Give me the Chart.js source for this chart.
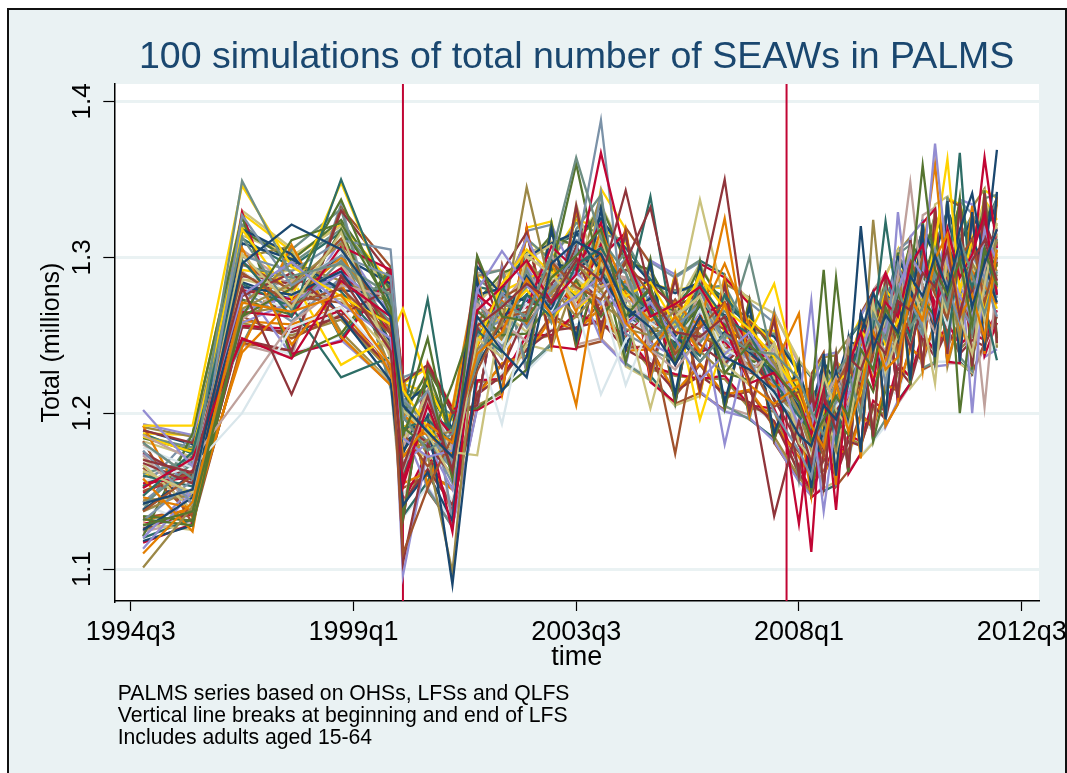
<!DOCTYPE html>
<html>
<head>
<meta charset="utf-8">
<script src="https://cdn.jsdelivr.net/npm/chart.js@4/dist/chart.umd.min.js"></script>
<style>
html,body{margin:0;padding:0;background:#fff;}
#wrap{position:relative;width:1067px;height:773px;overflow:hidden;}
#c{position:absolute;left:0;top:0;}
#note{position:absolute;left:117.7px;top:681.6px;font-family:"Liberation Sans",Arial,sans-serif;font-size:21.2px;line-height:22px;color:#000;white-space:nowrap;}
</style>
</head>
<body>
<div id="wrap">
<canvas id="c" width="1067" height="773"></canvas>
<div id="note">PALMS series based on OHSs, LFSs and QLFS<br>Vertical line breaks at beginning and end of LFS<br>Includes adults aged 15-64</div>
</div>
<script>
// Stata quarterly dates (1960q1 = 0): OHS annual 1994q4-1999q4, LFS biannual 2000q1-2007q3, QLFS quarterly 2008q1-2012q1
const timeQ = [139,143,147,151,155,159,
  160,162,164,166,168,170,172,174,176,178,180,182,184,186,188,190,
  192,193,194,195,196,197,198,199,200,201,202,203,204,205,206,207,208];
const xTickValues = [138,156,174,192,210];
const xTickLabels = ['1994q3','1999q1','2003q3','2008q1','2012q3'];
const yTickValues = [1.1,1.2,1.3,1.4];
const yTickLabels = ['1.1','1.2','1.3','1.4'];
const lfsBreaks = [160,191]; // 2000q1, 2007q4
const titleText = '100 simulations of total number of SEAWs in PALMS';
const yTitle = 'Total (millions)';
const xTitle = 'time';

// simulated totals (millions)
const sim00=[1.142,1.151,1.296,1.321,1.305,1.262, 1.205,1.188,1.172,1.262,1.240,1.223,1.296,1.310,1.302,1.268,1.255,1.231,1.262,1.236,1.228,1.214, 1.186,1.179,1.205,1.196,1.222,1.320,1.241,1.263,1.252,1.288,1.275,1.301,1.279,1.310,1.268,1.296,1.318];
const sim01=[1.170,1.162,1.281,1.212,1.288,1.240, 1.165,1.211,1.163,1.256,1.268,1.283,1.272,1.298,1.285,1.343,1.276,1.252,1.249,1.262,1.221,1.134, 1.195,1.168,1.212,1.189,1.236,1.228,1.249,1.238,1.272,1.266,1.290,1.281,1.305,1.262,1.298,1.311,1.285];
const sim02=[1.128,1.137,1.262,1.311,1.322,1.268, 1.186,1.224,1.158,1.301,1.262,1.259,1.287,1.301,1.318,1.262,1.281,1.233,1.271,1.226,1.244,1.228, 1.207,1.182,1.196,1.211,1.198,1.241,1.228,1.268,1.249,1.283,1.359,1.292,1.276,1.298,1.257,1.305,1.282];
const sim03=[1.110,1.143,1.271,1.265,1.276,1.231, 1.172,1.193,1.181,1.238,1.252,1.286,1.263,1.205,1.302,1.258,1.240,1.262,1.239,1.270,1.218,1.206, 1.218,1.192,1.178,1.220,1.188,1.215,1.252,1.228,1.236,1.274,1.260,1.299,1.315,1.262,1.276,1.248,1.305];
const sim04=[1.181,1.158,1.349,1.288,1.296,1.276, 1.198,1.176,1.187,1.232,1.271,1.262,1.301,1.364,1.312,1.290,1.248,1.259,1.233,1.251,1.240,1.238, 1.222,1.201,1.186,1.208,1.226,1.198,1.264,1.247,1.281,1.255,1.268,1.290,1.268,1.311,1.289,1.264,1.291];
const sim05=[1.152,1.171,1.248,1.235,1.285,1.262, 1.156,1.205,1.163,1.266,1.281,1.298,1.271,1.289,1.367,1.301,1.262,1.270,1.281,1.255,1.219,1.226, 1.208,1.186,1.215,1.138,1.231,1.252,1.218,1.271,1.262,1.295,1.308,1.262,1.318,1.287,1.302,1.328,1.276];
const sim06=[1.202,1.166,1.276,1.297,1.270,1.248, 1.184,1.172,1.176,1.279,1.304,1.282,1.264,1.275,1.288,1.256,1.271,1.248,1.221,1.238,1.252,1.229, 1.192,1.205,1.137,1.196,1.212,1.238,1.262,1.252,1.279,1.301,1.288,1.373,1.296,1.275,1.262,1.318,1.297];
const sim07=[1.163,1.149,1.302,1.268,1.316,1.235, 1.202,1.187,1.158,1.248,1.236,1.301,1.289,1.272,1.296,1.266,1.203,1.262,1.275,1.232,1.218,1.245, 1.181,1.171,1.224,1.202,1.190,1.233,1.271,1.226,1.250,1.285,1.262,1.219,1.305,1.262,1.238,1.282,1.322];
const sim08=[1.137,1.160,1.290,1.270,1.280,1.251, 1.110,1.152,1.185,1.227,1.261,1.265,1.297,1.281,1.273,1.298,1.276,1.238,1.255,1.271,1.232,1.204, 1.214,1.195,1.172,1.218,1.233,1.207,1.239,1.276,1.241,1.262,1.301,1.276,1.261,1.299,1.312,1.271,1.300];
const sim09=[1.176,1.142,1.327,1.282,1.301,1.288, 1.196,1.214,1.168,1.235,1.277,1.255,1.280,1.302,1.388,1.251,1.242,1.255,1.270,1.247,1.235,1.201, 1.176,1.159,1.206,1.218,1.201,1.248,1.227,1.255,1.296,1.271,1.256,1.305,1.282,1.258,1.301,1.287,1.262];
const sim10=[1.147,1.175,1.298,1.262,1.350,1.270, 1.190,1.196,1.181,1.253,1.239,1.276,1.262,1.295,1.306,1.280,1.265,1.242,1.283,1.261,1.251,1.220, 1.198,1.188,1.221,1.181,1.219,1.236,1.255,1.323,1.268,1.248,1.296,1.283,1.246,1.302,1.281,1.306,1.276];
const sim11=[1.101,1.140,1.267,1.283,1.309,1.240, 1.172,1.183,1.189,1.241,1.257,1.345,1.277,1.296,1.279,1.254,1.250,1.266,1.240,1.225,1.247,1.232, 1.201,1.176,1.195,1.176,1.240,1.205,1.245,1.265,1.238,1.281,1.270,1.298,1.289,1.248,1.296,1.283,1.311];
const sim12=[1.186,1.170,1.213,1.258,1.282,1.275, 1.163,1.208,1.178,1.270,1.258,1.246,1.302,1.268,1.281,1.287,1.241,1.228,1.248,1.262,1.226,1.241, 1.187,1.198,1.207,1.223,1.205,1.227,1.256,1.238,1.287,1.348,1.279,1.266,1.310,1.295,1.258,1.292,1.319];
const sim13=[1.192,1.192,1.346,1.294,1.275,1.257, 1.215,1.191,1.170,1.244,1.283,1.305,1.290,1.276,1.296,1.275,1.284,1.257,1.288,1.267,1.254,1.236, 1.212,1.184,1.201,1.220,1.226,1.211,1.266,1.244,1.259,1.285,1.270,1.309,1.363,1.278,1.312,1.266,1.302];
const sim14=[1.178,1.165,1.200,1.255,1.268,1.232, 1.170,1.202,1.183,1.260,1.245,1.270,1.265,1.288,1.275,1.218,1.258,1.247,1.266,1.241,1.233,1.211, 1.196,1.173,1.218,1.204,1.215,1.242,1.230,1.270,1.251,1.263,1.285,1.275,1.256,1.286,1.302,1.273,1.288];
const sim15=[1.125,1.146,1.281,1.276,1.291,1.246, 1.176,1.198,1.090,1.231,1.258,1.288,1.266,1.316,1.290,1.262,1.270,1.250,1.233,1.252,1.239,1.226, 1.204,1.162,1.189,1.227,1.196,1.251,1.277,1.262,1.245,1.270,1.314,1.256,1.282,1.318,1.341,1.296,1.271];
const sim16=[1.168,1.155,1.275,1.290,1.263,1.280, 1.104,1.180,1.160,1.255,1.229,1.264,1.283,1.300,1.264,1.297,1.332,1.261,1.244,1.232,1.246,1.209, 1.180,1.210,1.176,1.199,1.228,1.218,1.236,1.249,1.266,1.242,1.269,1.300,1.271,1.262,1.279,1.314,1.296];
const sim17=[1.132,1.128,1.262,1.280,1.337,1.263, 1.191,1.178,1.219,1.266,1.250,1.251,1.271,1.285,1.262,1.281,1.267,1.243,1.273,1.226,1.221,1.238, 1.191,1.209,1.292,1.196,1.186,1.230,1.214,1.241,1.277,1.255,1.273,1.262,1.315,1.200,1.266,1.305,1.294];
const sim18=[1.158,1.124,1.306,1.244,1.283,1.225, 1.199,1.186,1.174,1.243,1.272,1.258,1.296,1.265,1.318,1.277,1.259,1.271,1.255,1.325,1.230,1.217, 1.222,1.177,1.210,1.211,1.198,1.246,1.222,1.234,1.262,1.290,1.257,1.281,1.297,1.255,1.291,1.282,1.270];
const sim19=[1.141,1.168,1.313,1.266,1.298,1.258, 1.207,1.195,1.166,1.272,1.244,1.292,1.258,1.304,1.284,1.303,1.247,1.256,1.279,1.247,1.300,1.230, 1.199,1.190,1.180,1.225,1.237,1.218,1.262,1.281,1.233,1.277,1.252,1.291,1.277,1.303,1.251,1.288,1.312];
const sim20=[1.155,1.159,1.265,1.262,1.307,1.292, 1.153,1.204,1.186,1.276,1.263,1.268,1.307,1.292,1.322,1.258,1.268,1.231,1.262,1.271,1.243,1.232, 1.129,1.196,1.224,1.182,1.213,1.221,1.269,1.290,1.271,1.251,1.296,1.270,1.287,1.264,1.295,1.364,1.306];
const sim21=[1.113,1.150,1.258,1.271,1.290,1.266, 1.168,1.181,1.151,1.279,1.241,1.274,1.268,1.291,1.270,1.282,1.245,1.236,1.266,1.180,1.248,1.219, 1.207,1.182,1.197,1.205,1.226,1.200,1.247,1.228,1.329,1.262,1.277,1.258,1.296,1.281,1.270,1.302,1.278];
const sim22=[1.167,1.138,1.286,1.278,1.273,1.239, 1.182,1.212,1.175,1.173,1.266,1.252,1.286,1.279,1.312,1.269,1.263,1.242,1.283,1.238,1.244,1.236, 1.198,1.170,1.187,1.217,1.209,1.243,1.236,1.260,1.281,1.245,1.288,1.296,1.263,1.279,1.296,1.260,1.315];
const sim23=[1.150,1.162,1.296,1.279,1.312,1.252, 1.187,1.166,1.182,1.259,1.274,1.283,1.264,1.287,1.301,1.259,1.250,1.174,1.260,1.254,1.226,1.221, 1.203,1.186,1.213,1.194,1.240,1.212,1.250,1.270,1.254,1.298,1.281,1.269,1.251,1.310,1.276,1.293,1.283];
const sim24=[1.131,1.157,1.301,1.291,1.311,1.305, 1.210,1.190,1.163,1.250,1.260,1.263,1.276,1.311,1.296,1.290,1.257,1.265,1.248,1.268,1.237,1.244, 1.190,1.168,1.204,1.228,1.193,1.238,1.266,1.218,1.276,1.265,1.250,1.288,1.301,1.270,1.255,1.279,1.307];
const sim25=[1.160,1.153,1.283,1.268,1.223,1.236, 1.162,1.200,1.190,1.243,1.281,1.259,1.298,1.274,1.292,1.264,1.279,1.250,1.237,1.276,1.253,1.210, 1.215,1.180,1.174,1.210,1.222,1.247,1.229,1.248,1.260,1.283,1.305,1.275,1.284,1.367,1.262,1.275,1.297];
const sim26=[1.144,1.147,1.270,1.296,1.285,1.271, 1.201,1.173,1.098,1.262,1.248,1.297,1.281,1.262,1.279,1.296,1.254,1.258,1.251,1.242,1.231,1.228, 1.183,1.200,1.215,1.188,1.233,1.226,1.243,1.258,1.288,1.257,1.291,1.284,1.268,1.291,1.308,1.262,1.289];
const sim27=[1.173,1.141,1.260,1.285,1.297,1.245, 1.178,1.215,1.177,1.238,1.270,1.290,1.272,1.298,1.306,1.272,1.271,1.264,1.272,1.259,1.246,1.215, 1.207,1.190,1.181,1.200,1.248,1.232,1.254,1.238,1.267,1.306,1.267,1.252,1.319,1.297,1.283,1.300,1.278];
const sim28=[1.185,1.175,1.318,1.274,1.348,1.270, 1.190,1.206,1.167,1.247,1.263,1.279,1.260,1.279,1.291,1.279,1.262,1.249,1.290,1.252,1.251,1.283, 1.219,1.175,1.192,1.213,1.207,1.253,1.242,1.279,1.269,1.273,1.262,1.302,1.286,1.268,1.299,1.288,1.267];
const sim29=[1.156,1.166,1.290,1.278,1.304,1.263, 1.183,1.193,1.171,1.268,1.238,1.262,1.287,1.270,1.212,1.247,1.266,1.255,1.258,1.248,1.229,1.240, 1.194,1.193,1.208,1.195,1.232,1.208,1.259,1.245,1.246,1.289,1.277,1.263,1.298,1.282,1.268,1.310,1.286];
const sim30=[1.138,1.161,1.309,1.299,1.279,1.276, 1.174,1.213,1.180,1.294,1.276,1.272,1.296,1.293,1.302,1.260,1.274,1.245,1.269,1.263,1.241,1.231, 1.193,1.163,1.219,1.202,1.205,1.264,1.240,1.272,1.285,1.276,1.294,1.287,1.274,1.296,1.310,1.297,1.369];
const sim31=[1.175,1.157,1.288,1.283,1.289,1.258, 1.192,1.181,1.178,1.300,1.253,1.287,1.270,1.307,1.283,1.292,1.283,1.268,1.277,1.350,1.238,1.225, 1.210,1.186,1.203,1.216,1.221,1.235,1.273,1.252,1.258,1.283,1.262,1.279,1.291,1.257,1.282,1.323,1.303];
const sim32=[1.134,1.131,1.273,1.263,1.318,1.244, 1.196,1.248,1.174,1.249,1.269,1.269,1.291,1.360,1.286,1.268,1.251,1.260,1.264,1.257,1.234,1.229, 1.200,1.179,1.198,1.287,1.217,1.240,1.249,1.262,1.255,1.292,1.283,1.311,1.279,1.262,1.290,1.283,1.310];
const sim33=[1.146,1.139,1.239,1.272,1.300,1.256, 1.180,1.188,1.184,1.258,1.247,1.296,1.275,1.284,1.270,1.285,1.258,1.241,1.262,1.296,1.256,1.230, 1.264,1.187,1.209,1.199,1.233,1.255,1.228,1.274,1.272,1.258,1.301,1.360,1.277,1.306,1.284,1.270,1.296];
const sim34=[1.161,1.170,1.295,1.287,1.282,1.279, 1.204,1.180,1.165,1.240,1.256,1.281,1.300,1.266,1.294,1.283,1.241,1.233,1.245,1.266,1.244,1.213, 1.205,1.196,1.186,1.224,1.200,1.219,1.236,1.263,1.280,1.266,1.270,1.295,1.263,1.288,1.273,1.314,1.281];
const sim35=[1.149,1.163,1.279,1.273,1.293,1.251, 1.168,1.192,1.124,1.270,1.259,1.263,1.283,1.270,1.308,1.252,1.263,1.252,1.239,1.246,1.228,1.237, 1.186,1.111,1.220,1.190,1.225,1.249,1.262,1.233,1.294,1.279,1.255,1.286,1.302,1.274,1.252,1.299,1.318];
const sim36=[1.120,1.152,1.266,1.275,1.284,1.269, 1.096,1.177,1.188,1.246,1.273,1.313,1.279,1.288,1.276,1.264,1.254,1.249,1.270,1.234,1.249,1.240, 1.205,1.272,1.182,1.207,1.238,1.216,1.232,1.266,1.251,1.275,1.289,1.270,1.291,1.305,1.200,1.292,1.312];
const sim37=[1.171,1.145,1.285,1.292,1.295,1.241, 1.186,1.170,1.179,1.232,1.251,1.298,1.308,1.282,1.288,1.275,1.246,1.262,1.337,1.271,1.236,1.223, 1.213,1.199,1.211,1.175,1.210,1.244,1.260,1.251,1.237,1.280,1.303,1.278,1.276,1.251,1.288,1.271,1.300];
const sim38=[1.165,1.134,1.297,1.275,1.271,1.260, 1.158,1.209,1.169,1.264,1.267,1.257,1.279,1.297,1.298,1.268,1.252,1.273,1.250,1.240,1.259,1.243, 1.201,1.201,1.190,1.221,1.197,1.258,1.247,1.232,1.263,1.293,1.275,1.256,1.270,1.292,1.279,1.284,1.295];
const sim39=[1.143,1.169,1.279,1.259,1.287,1.267, 1.208,1.185,1.155,1.256,1.235,1.291,1.268,1.278,1.283,1.299,1.270,1.257,1.268,1.230,1.252,1.218, 1.188,1.172,1.217,1.207,1.246,1.229,1.255,1.269,1.278,1.258,1.280,1.269,1.307,1.277,1.261,1.302,1.274];
const sim40=[1.153,1.172,1.276,1.296,1.278,1.243, 1.199,1.273,1.176,1.251,1.262,1.276,1.293,1.289,1.310,1.271,1.339,1.245,1.256,1.251,1.247,1.208, 1.196,1.205,1.199,1.219,1.203,1.237,1.238,1.276,1.262,1.299,1.266,1.293,1.258,1.276,1.304,1.268,1.234];
const sim41=[1.137,1.151,1.264,1.269,1.305,1.229, 1.175,1.201,1.172,1.230,1.280,1.261,1.289,1.287,1.271,1.258,1.266,1.238,1.279,1.262,1.240,1.226, 1.179,1.181,1.206,1.202,1.219,1.211,1.324,1.247,1.274,1.262,1.295,1.300,1.282,1.260,1.277,1.306,1.291];
const sim42=[1.180,1.159,1.305,1.281,1.290,1.254, 1.188,1.199,1.162,1.259,1.245,1.284,1.282,1.273,1.291,1.287,1.259,1.250,1.287,1.244,1.233,1.234, 1.204,1.177,1.202,1.213,1.227,1.236,1.244,1.258,1.289,1.269,1.287,1.292,1.270,1.296,1.279,1.204,1.287];
const sim43=[1.162,1.148,1.292,1.287,1.231,1.249, 1.267,1.219,1.185,1.252,1.278,1.286,1.293,1.266,1.281,1.296,1.266,1.268,1.196,1.247,1.260,1.245, 1.209,1.189,1.214,1.226,1.216,1.244,1.256,1.244,1.266,1.287,1.305,1.281,1.300,1.283,1.261,1.318,1.280];
const sim44=[1.166,1.156,1.280,1.265,1.284,1.247, 1.179,1.196,1.178,1.245,1.193,1.266,1.274,1.292,1.280,1.262,1.250,1.247,1.261,1.237,1.227,1.220, 1.191,1.181,1.203,1.210,1.212,1.231,1.250,1.247,1.270,1.272,1.259,1.283,1.287,1.273,1.290,1.281,1.297];
const sim45=[1.118,1.128,1.318,1.302,1.262,1.221, 1.141,1.162,1.131,1.285,1.214,1.236,1.318,1.248,1.331,1.241,1.296,1.212,1.294,1.207,1.268,1.187, 1.231,1.152,1.238,1.160,1.247,1.175,1.276,1.196,1.301,1.221,1.321,1.236,1.336,1.233,1.329,1.240,1.342];
const sim46=[1.189,1.181,1.247,1.240,1.330,1.289, 1.220,1.231,1.200,1.205,1.291,1.316,1.245,1.333,1.254,1.316,1.226,1.286,1.215,1.282,1.201,1.260, 1.160,1.221,1.153,1.236,1.165,1.259,1.185,1.286,1.210,1.311,1.229,1.330,1.238,1.335,1.230,1.341,1.245];
const sim47=[1.121,1.187,1.326,1.236,1.251,1.293, 1.132,1.228,1.201,1.203,1.215,1.228,1.322,1.244,1.298,1.233,1.299,1.207,1.297,1.203,1.272,1.183, 1.233,1.150,1.188,1.238,1.162,1.262,1.182,1.215,1.303,1.218,1.322,1.233,1.283,1.338,1.228,1.343,1.248];
const sim48=[1.192,1.133,1.242,1.308,1.249,1.218, 1.222,1.153,1.203,1.288,1.212,1.318,1.243,1.331,1.249,1.318,1.223,1.288,1.212,1.287,1.198,1.263, 1.198,1.147,1.236,1.154,1.248,1.171,1.277,1.192,1.206,1.297,1.228,1.318,1.233,1.262,1.333,1.238,1.337];
const sim49=[1.138,1.183,1.244,1.305,1.331,1.217, 1.224,1.151,1.127,1.288,1.292,1.229,1.245,1.318,1.340,1.232,1.221,1.288,1.298,1.205,1.196,1.265, 1.157,1.218,1.236,1.153,1.249,1.258,1.183,1.196,1.302,1.308,1.229,1.233,1.339,1.236,1.227,1.338,1.340];
const sim50=[1.117,1.129,1.329,1.238,1.246,1.289, 1.131,1.232,1.203,1.202,1.211,1.319,1.243,1.241,1.300,1.316,1.220,1.207,1.296,1.287,1.270,1.183, 1.232,1.146,1.152,1.238,1.161,1.174,1.278,1.287,1.207,1.219,1.322,1.331,1.233,1.232,1.331,1.237,1.258];
const sim51=[1.193,1.186,1.282,1.237,1.247,1.219, 1.190,1.152,1.127,1.203,1.293,1.227,1.321,1.286,1.247,1.231,1.298,1.289,1.214,1.201,1.197,1.182, 1.156,1.147,1.237,1.239,1.161,1.263,1.276,1.191,1.208,1.313,1.323,1.230,1.231,1.337,1.334,1.236,1.241];
const sim52=[1.129,1.125,1.330,1.306,1.249,1.220, 1.133,1.233,1.204,1.290,1.213,1.244,1.240,1.334,1.283,1.230,1.221,1.205,1.211,1.288,1.273,1.264, 1.234,1.224,1.152,1.156,1.250,1.172,1.181,1.289,1.304,1.216,1.226,1.334,1.339,1.232,1.226,1.344,1.244];
const sim53=[1.182,1.129,1.245,1.240,1.332,1.294, 1.221,1.150,1.128,1.204,1.295,1.226,1.319,1.242,1.246,1.319,1.296,1.206,1.213,1.202,1.273,1.181, 1.157,1.225,1.239,1.153,1.163,1.264,1.278,1.192,1.206,1.312,1.228,1.232,1.337,1.333,1.226,1.245,1.339];
const sim54=[1.152,1.186,1.326,1.239,1.334,1.216, 1.223,1.229,1.131,1.289,1.214,1.317,1.321,1.243,1.342,1.233,1.297,1.287,1.297,1.203,1.271,1.258, 1.195,1.155,1.205,1.236,1.164,1.262,1.278,1.195,1.305,1.311,1.226,1.333,1.232,1.336,1.328,1.238,1.341];
const sim55=[1.120,1.132,1.243,1.306,1.248,1.291, 1.134,1.156,1.199,1.204,1.292,1.230,1.244,1.330,1.249,1.316,1.224,1.205,1.298,1.289,1.196,1.184, 1.233,1.223,1.150,1.154,1.247,1.258,1.182,1.288,1.208,1.219,1.324,1.232,1.338,1.233,1.225,1.339,1.246];
const sim56=[1.191,1.185,1.300,1.307,1.252,1.220, 1.218,1.152,1.202,1.205,1.213,1.317,1.242,1.287,1.340,1.231,1.222,1.289,1.214,1.283,1.274,1.185, 1.159,1.148,1.236,1.237,1.248,1.173,1.277,1.194,1.303,1.313,1.228,1.331,1.230,1.263,1.332,1.344,1.242];
const sim57=[1.124,1.131,1.244,1.236,1.333,1.222, 1.135,1.231,1.128,1.290,1.292,1.228,1.320,1.244,1.248,1.232,1.298,1.206,1.297,1.204,1.199,1.265, 1.231,1.146,1.153,1.240,1.162,1.174,1.279,1.290,1.206,1.218,1.327,1.332,1.232,1.232,1.226,1.242,1.340];
const sim58=[1.187,1.186,1.328,1.304,1.251,1.292, 1.219,1.229,1.201,1.288,1.213,1.319,1.323,1.245,1.344,1.318,1.222,1.290,1.212,1.286,1.271,1.182, 1.158,1.222,1.236,1.157,1.246,1.261,1.183,1.288,1.305,1.221,1.322,1.232,1.338,1.334,1.227,1.343,1.338];
const sim59=[1.142,1.128,1.246,1.238,1.250,1.218, 1.133,1.153,1.131,1.203,1.294,1.227,1.243,1.334,1.247,1.232,1.223,1.206,1.298,1.202,1.197,1.264, 1.232,1.147,1.152,1.238,1.163,1.173,1.182,1.192,1.207,1.314,1.227,1.233,1.233,1.233,1.329,1.238,1.243];
const sim60=[1.189,1.180,1.284,1.273,1.301,1.283, 1.205,1.218,1.190,1.276,1.280,1.300,1.309,1.316,1.325,1.302,1.284,1.277,1.284,1.271,1.256,1.249, 1.226,1.203,1.233,1.219,1.246,1.243,1.268,1.262,1.298,1.286,1.318,1.301,1.330,1.309,1.325,1.316,1.334];
const sim61=[1.126,1.136,1.255,1.252,1.262,1.229, 1.143,1.164,1.141,1.212,1.224,1.241,1.253,1.255,1.259,1.241,1.232,1.214,1.224,1.213,1.207,1.195, 1.162,1.147,1.171,1.160,1.182,1.179,1.205,1.196,1.229,1.219,1.248,1.236,1.254,1.238,1.247,1.243,1.262];
const sim62=[1.184,1.176,1.317,1.298,1.324,1.279, 1.198,1.227,1.184,1.272,1.290,1.296,1.314,1.307,1.333,1.297,1.292,1.262,1.294,1.268,1.262,1.239, 1.214,1.216,1.206,1.232,1.222,1.257,1.249,1.286,1.276,1.309,1.298,1.327,1.306,1.334,1.302,1.333,1.318];
const sim63=[1.131,1.139,1.259,1.257,1.268,1.226, 1.155,1.162,1.151,1.211,1.232,1.237,1.261,1.252,1.268,1.240,1.241,1.213,1.232,1.212,1.215,1.193, 1.172,1.158,1.160,1.178,1.173,1.198,1.192,1.217,1.216,1.241,1.236,1.257,1.244,1.256,1.238,1.261,1.251];
const sim64=[1.185,1.178,1.321,1.296,1.318,1.282, 1.216,1.209,1.199,1.286,1.275,1.312,1.298,1.322,1.315,1.311,1.281,1.279,1.280,1.282,1.252,1.251, 1.229,1.198,1.227,1.214,1.240,1.246,1.272,1.266,1.300,1.292,1.317,1.306,1.328,1.313,1.327,1.318,1.337];
const sim65=[1.129,1.135,1.256,1.254,1.266,1.232, 1.143,1.175,1.137,1.221,1.222,1.250,1.250,1.264,1.257,1.251,1.230,1.225,1.222,1.224,1.205,1.203, 1.166,1.150,1.174,1.163,1.186,1.182,1.208,1.201,1.232,1.223,1.251,1.240,1.258,1.244,1.251,1.247,1.266];
const sim66=[1.174,1.155,1.302,1.262,1.311,1.262, 1.182,1.209,1.161,1.266,1.247,1.294,1.268,1.302,1.314,1.256,1.276,1.236,1.279,1.241,1.247,1.219, 1.208,1.178,1.214,1.190,1.228,1.222,1.263,1.255,1.284,1.283,1.299,1.290,1.313,1.301,1.282,1.316,1.308];
const sim67=[1.182,1.172,1.314,1.301,1.320,1.277, 1.205,1.224,1.187,1.270,1.287,1.302,1.310,1.309,1.334,1.300,1.289,1.268,1.296,1.266,1.261,1.243, 1.210,1.211,1.219,1.230,1.228,1.258,1.255,1.283,1.280,1.306,1.297,1.327,1.312,1.331,1.308,1.336,1.320];
const sim68=[1.133,1.138,1.262,1.248,1.263,1.228, 1.152,1.160,1.153,1.213,1.231,1.240,1.263,1.254,1.271,1.242,1.243,1.211,1.231,1.210,1.214,1.191, 1.175,1.161,1.163,1.181,1.176,1.200,1.190,1.219,1.214,1.243,1.233,1.259,1.243,1.259,1.236,1.264,1.250];
const sim69=[1.154,1.162,1.276,1.286,1.281,1.247, 1.197,1.182,1.172,1.238,1.266,1.269,1.294,1.279,1.287,1.286,1.253,1.261,1.246,1.259,1.231,1.226, 1.200,1.194,1.188,1.215,1.211,1.237,1.238,1.265,1.258,1.275,1.293,1.281,1.302,1.285,1.300,1.292,1.314];
const sim70=[1.187,1.174,1.312,1.294,1.316,1.281, 1.211,1.214,1.188,1.281,1.278,1.303,1.308,1.314,1.324,1.306,1.286,1.270,1.285,1.274,1.257,1.250, 1.228,1.196,1.229,1.210,1.243,1.241,1.271,1.270,1.301,1.287,1.318,1.307,1.330,1.312,1.325,1.320,1.338];
const sim71=[1.124,1.141,1.258,1.250,1.260,1.227, 1.139,1.172,1.136,1.220,1.221,1.246,1.250,1.262,1.256,1.249,1.228,1.224,1.222,1.222,1.203,1.201, 1.160,1.152,1.170,1.166,1.184,1.180,1.203,1.199,1.226,1.225,1.245,1.241,1.252,1.241,1.249,1.248,1.258];
const sim72=[1.159,1.168,1.291,1.268,1.290,1.256, 1.176,1.196,1.166,1.252,1.261,1.281,1.279,1.284,1.305,1.267,1.265,1.245,1.271,1.253,1.239,1.224, 1.202,1.186,1.198,1.205,1.222,1.231,1.246,1.259,1.277,1.279,1.287,1.305,1.291,1.299,1.293,1.304,1.316];
const sim73=[1.186,1.177,1.319,1.299,1.321,1.284, 1.219,1.213,1.196,1.289,1.279,1.311,1.299,1.324,1.319,1.309,1.283,1.279,1.282,1.280,1.253,1.253, 1.216,1.214,1.211,1.233,1.226,1.259,1.252,1.284,1.283,1.307,1.301,1.325,1.309,1.334,1.310,1.337,1.324];
const sim74=[1.127,1.134,1.257,1.251,1.264,1.230, 1.148,1.166,1.144,1.216,1.226,1.242,1.254,1.257,1.261,1.244,1.235,1.217,1.225,1.214,1.206,1.194, 1.170,1.156,1.161,1.176,1.172,1.195,1.189,1.215,1.212,1.239,1.231,1.255,1.242,1.253,1.235,1.258,1.254];

const simulations=[sim00,sim01,sim02,sim03,sim04,sim05,sim06,sim07,sim08,sim09,sim10,sim11,sim12,sim13,sim14,
  sim15,sim16,sim17,sim18,sim19,sim20,sim21,sim22,sim23,sim24,sim25,sim26,sim27,sim28,sim29,
  sim30,sim31,sim32,sim33,sim34,sim35,sim36,sim37,sim38,sim39,sim40,sim41,sim42,sim43,sim44,
  sim45,sim46,sim47,sim48,sim49,sim50,sim51,sim52,sim53,sim54,sim55,sim56,sim57,sim58,sim59,
  sim60,sim61,sim62,sim63,sim64,sim65,sim66,sim67,sim68,sim69,sim70,sim71,sim72,sim73,sim74];

// Stata s2color line palette
const palette=['#1A476F','#90353B','#55752F','#E37E00','#6E8E84','#C10534','#938DD2','#CAC27E',
  '#A0522D','#7B92A8','#2D6D66','#9C8847','#BFA19C','#FFD200','#D9E6EB'];

const X_MIN=136.675, X_MAX=211.4, Y_MIN=1.0795, Y_MAX=1.4112;
const FONT="'Liberation Sans', Arial, Helvetica, sans-serif";
Chart.defaults.font.family=FONT;

const datasets=[];
simulations.forEach((s,k)=>{
  datasets.push({
    data: timeQ.map((q,i)=>({x:q,y:s[i]})),
    borderColor: palette[k%palette.length],
    borderWidth: 2.3,
    pointRadius: 0,
    tension: 0,
    fill: false,
    order: 0
  });
});
lfsBreaks.forEach(b=>{
  datasets.push({
    data:[{x:b,y:Y_MIN},{x:b,y:Y_MAX}],
    borderColor:'#C10534', borderWidth:2, pointRadius:0, fill:false, order:10
  });
});

const bgPlugin={
  id:'bg',
  beforeDraw(chart){
    const {ctx,chartArea:a}=chart;
    ctx.save();
    ctx.fillStyle='#ffffff'; ctx.fillRect(0,0,chart.width,chart.height);
    ctx.fillStyle='#EAF2F3'; ctx.fillRect(9,10,1056,770);
    ctx.strokeStyle='#111'; ctx.lineWidth=2; ctx.strokeRect(8,9,1058,780);
    ctx.fillStyle='#ffffff'; ctx.fillRect(a.left,a.top,a.right-a.left,a.bottom-a.top);
    ctx.restore();
  }
};

new Chart(document.getElementById('c'),{
  type:'line',
  data:{datasets},
  plugins:[bgPlugin],
  options:{
    responsive:false, animation:false, devicePixelRatio:1, events:[],
    layout:{padding:{left:0,right:28,top:0,bottom:92}},
    plugins:{
      legend:{display:false},
      tooltip:{enabled:false},
      title:{display:true,text:titleText,color:'#1A476F',fullSize:false,align:'center',
        font:{family:FONT,size:37.5,weight:'normal',lineHeight:1.2},padding:{top:35.5,bottom:3.5}}
    },
    scales:{
      x:{type:'linear',min:X_MIN,max:X_MAX,
        afterBuildTicks:s=>{s.ticks=xTickValues.map(v=>({value:v}));},
        afterFit:s=>{s.height=80;s.paddingLeft=0;s.paddingRight=0;},
        ticks:{callback:(v,i)=>xTickLabels[i],autoSkip:false,maxRotation:0,minRotation:0,
          color:'#000',padding:5.5,font:{family:FONT,size:27}},
        grid:{drawOnChartArea:false,drawTicks:true,tickLength:10,tickColor:'#000',tickWidth:1.2},
        border:{display:true,color:'#000',width:1.5},
        title:{display:true,text:xTitle,color:'#000',font:{family:FONT,size:27},padding:{top:0,bottom:7.5}}
      },
      y:{type:'linear',min:Y_MIN,max:Y_MAX,
        afterBuildTicks:s=>{s.ticks=yTickValues.map(v=>({value:v}));},
        afterFit:s=>{s.width=114.3;},
        ticks:{callback:(v,i)=>yTickLabels[i],autoSkip:false,minRotation:90,maxRotation:90,crossAlign:'center',
          color:'#000',padding:2.8,font:{family:FONT,size:26}},
        grid:{color:'#EAF2F3',lineWidth:3,drawTicks:true,tickLength:11,tickColor:'#000',tickWidth:1.2},
        border:{display:true,color:'#000',width:1.5},
        title:{display:true,text:yTitle,color:'#000',font:{family:FONT,size:25},padding:{top:37,bottom:0}}
      }
    }
  }
});
</script>
</body>
</html>
